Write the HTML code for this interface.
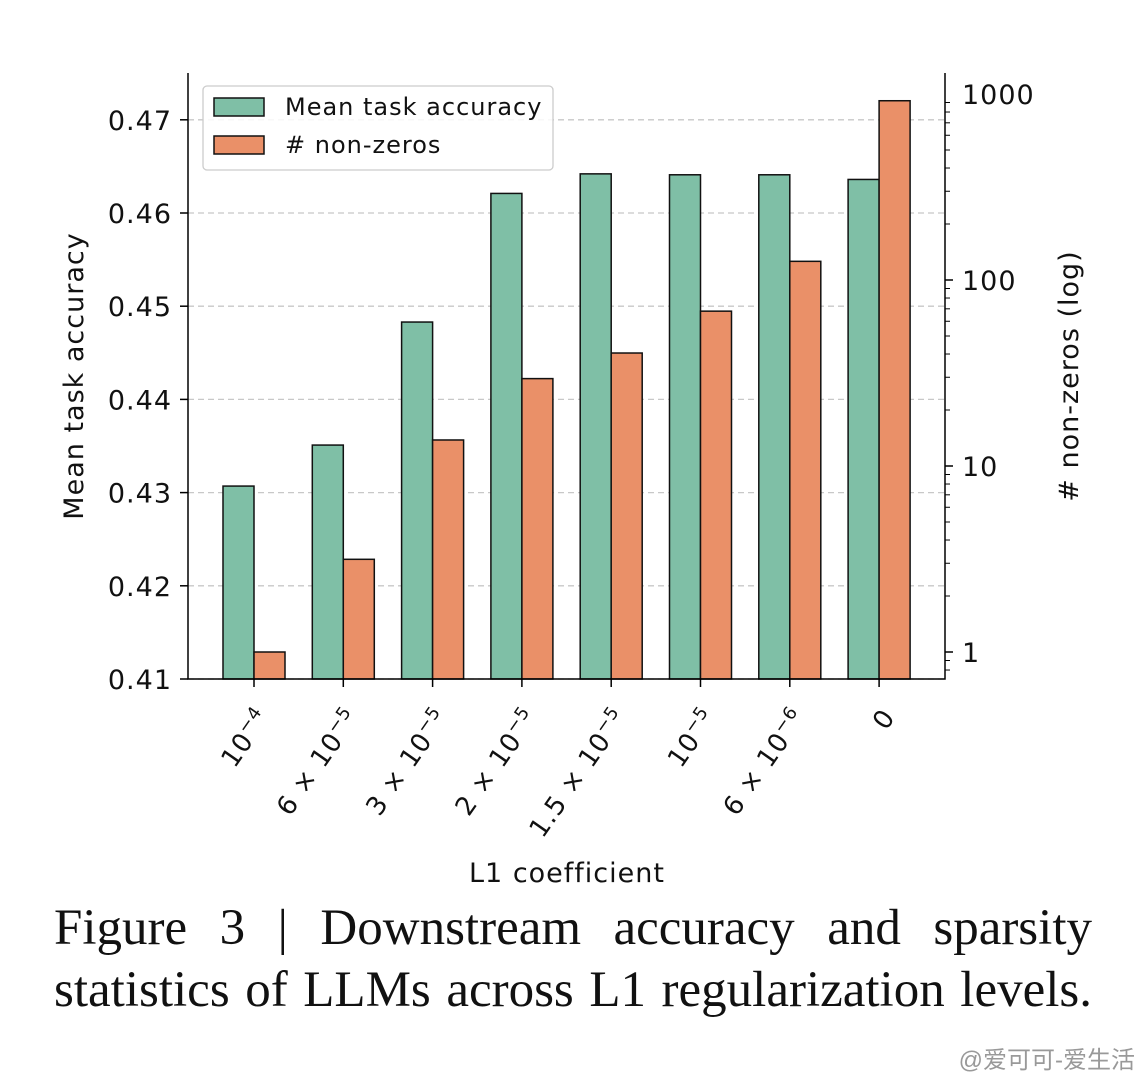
<!DOCTYPE html>
<html><head><meta charset="utf-8"><style>
body{margin:0;background:#fff;width:1147px;height:1080px;overflow:hidden;font-family:"DejaVu Sans","Liberation Sans",sans-serif}
.cap{position:absolute;left:54px;width:1038px;font-family:"Liberation Serif","DejaVu Serif",serif;font-size:51px;line-height:60px;text-align:justify;text-align-last:justify;color:#111;white-space:nowrap}
#wm{position:absolute;right:12px;top:1040px;font-family:"Liberation Sans","Noto Sans CJK SC",sans-serif;font-size:24px;color:#999}
svg text{letter-spacing:1px}
</style></head><body>
<svg id="chart" width="1147" height="900" style="position:absolute;left:0;top:0"></svg>
<div class="cap" style="top:898px">Figure 3 | Downstream accuracy and sparsity</div>
<div class="cap" style="top:960px">statistics of LLMs across L1 regularization levels.</div>
<div id="wm">@爱可可-爱生活</div>
<script>
const categories=["10^-4","6×10^-5","3×10^-5","2×10^-5","1.5×10^-5","10^-5","6×10^-6","0"];
const catBase=["10","6 × 10","3 × 10","2 × 10","1.5 × 10","10","6 × 10","0"];
const catExp=["−4","−5","−5","−5","−5","−5","−6",""];
const accuracy=[0.4307,0.4351,0.4483,0.4621,0.4642,0.4641,0.4641,0.4636];
const nonZeros=[1.0,3.15,13.8,29.5,40.5,68,126,920];
const leftTicks=[0.41,0.42,0.43,0.44,0.45,0.46,0.47];
const rightTicks=[1,10,100,1000];
const NS="http://www.w3.org/2000/svg";
const svg=document.getElementById('chart');
const X0=188,X1=945,Y0=679,Y1=73;
const yL=v=>Y0-(v-0.41)/0.01*93.2;
const yR=v=>652-Math.log10(v)*186;
const xC=i=>254+i*89.3;
function el(t,a,txt){const e=document.createElementNS(NS,t);for(const k in a)e.setAttribute(k,a[k]);if(txt!==undefined)e.textContent=txt;svg.appendChild(e);return e;}
leftTicks.forEach(v=>{
 const g=el('line',{x1:X0,x2:X1,y1:yL(v),y2:yL(v),stroke:'#c8c8c8','stroke-dasharray':'6,4','stroke-width':1.3});
 
 const t=el('line',{x1:X0-8,x2:X0,y1:yL(v),y2:yL(v),stroke:'#000','stroke-width':1.5});
 
 const l=el('text',{x:X0-16,y:yL(v)+10,'text-anchor':'end','font-size':27,fill:'#111'},v.toFixed(2));
 
});
for(let d=0;d<4;d++)for(let m=1;m<10;m++){const v=m*Math.pow(10,d-1);const y=yR(v);if(y>Y0||y<Y1)continue;
 const t=el('line',{x1:X1,x2:X1+(m==1?8:5),y1:y,y2:y,stroke:'#000','stroke-width':m==1?1.5:1});
 }
rightTicks.forEach(v=>{const l=el('text',{x:X1+17,y:yR(v)+10,'font-size':27,fill:'#111'},String(v));
 });
categories.forEach((c,i)=>{
 const bw=31;
 const g=el('rect',{x:xC(i)-bw,y:yL(accuracy[i]),width:bw,height:Y0-yL(accuracy[i]),fill:'#7fbfa6',stroke:'#111','stroke-width':1.5});
 
 const o=el('rect',{x:xC(i),y:yR(nonZeros[i]),width:bw,height:Y0-yR(nonZeros[i]),fill:'#ea9068',stroke:'#111','stroke-width':1.5});
 
 const t=el('line',{x1:xC(i),x2:xC(i),y1:Y0,y2:Y0+8,stroke:'#000','stroke-width':1.5});
 
 const tx=el('text',{x:0,y:0,'text-anchor':'end','font-size':26,fill:'#111',transform:`translate(${xC(i)+17},${Y0+38}) rotate(-55)`});
 
 tx.appendChild(document.createTextNode(catBase[i]));
 if(catExp[i]){const s=document.createElementNS(NS,'tspan');s.setAttribute('dy','-10');s.setAttribute('font-size','18');s.textContent=catExp[i];tx.appendChild(s);}
});
const ax=el('path',{d:`M${X0},${Y1}V${Y0}H${X1}V${Y1}`,fill:'none',stroke:'#000','stroke-width':1.5});

const yt=el('text',{x:0,y:0,'text-anchor':'middle','font-size':27,fill:'#111',transform:'translate(83,376) rotate(-90)'},'Mean task accuracy');

const yt2=el('text',{x:0,y:0,'text-anchor':'middle','font-size':27,fill:'#111',transform:'translate(1078,376) rotate(-90)'},'# non-zeros (log)');

const xt=el('text',{x:567,y:882,'text-anchor':'middle','font-size':27,fill:'#111'},'L1 coefficient');

const lg=el('rect',{x:203,y:86,width:350,height:84,rx:4,fill:'#fff','fill-opacity':0.85,stroke:'#ccc','stroke-width':1.3});

[['#7fbfa6','Mean task accuracy',98],['#ea9068','# non-zeros',136]].forEach(([c,t,y])=>{
 const r=el('rect',{x:214,y:y,width:50,height:18,fill:c,stroke:'#111','stroke-width':1.5});
 
 const l=el('text',{x:285,y:y+17,'font-size':24,fill:'#111','letter-spacing':'0.5px'},t);
 
});
</script>
</body></html>
